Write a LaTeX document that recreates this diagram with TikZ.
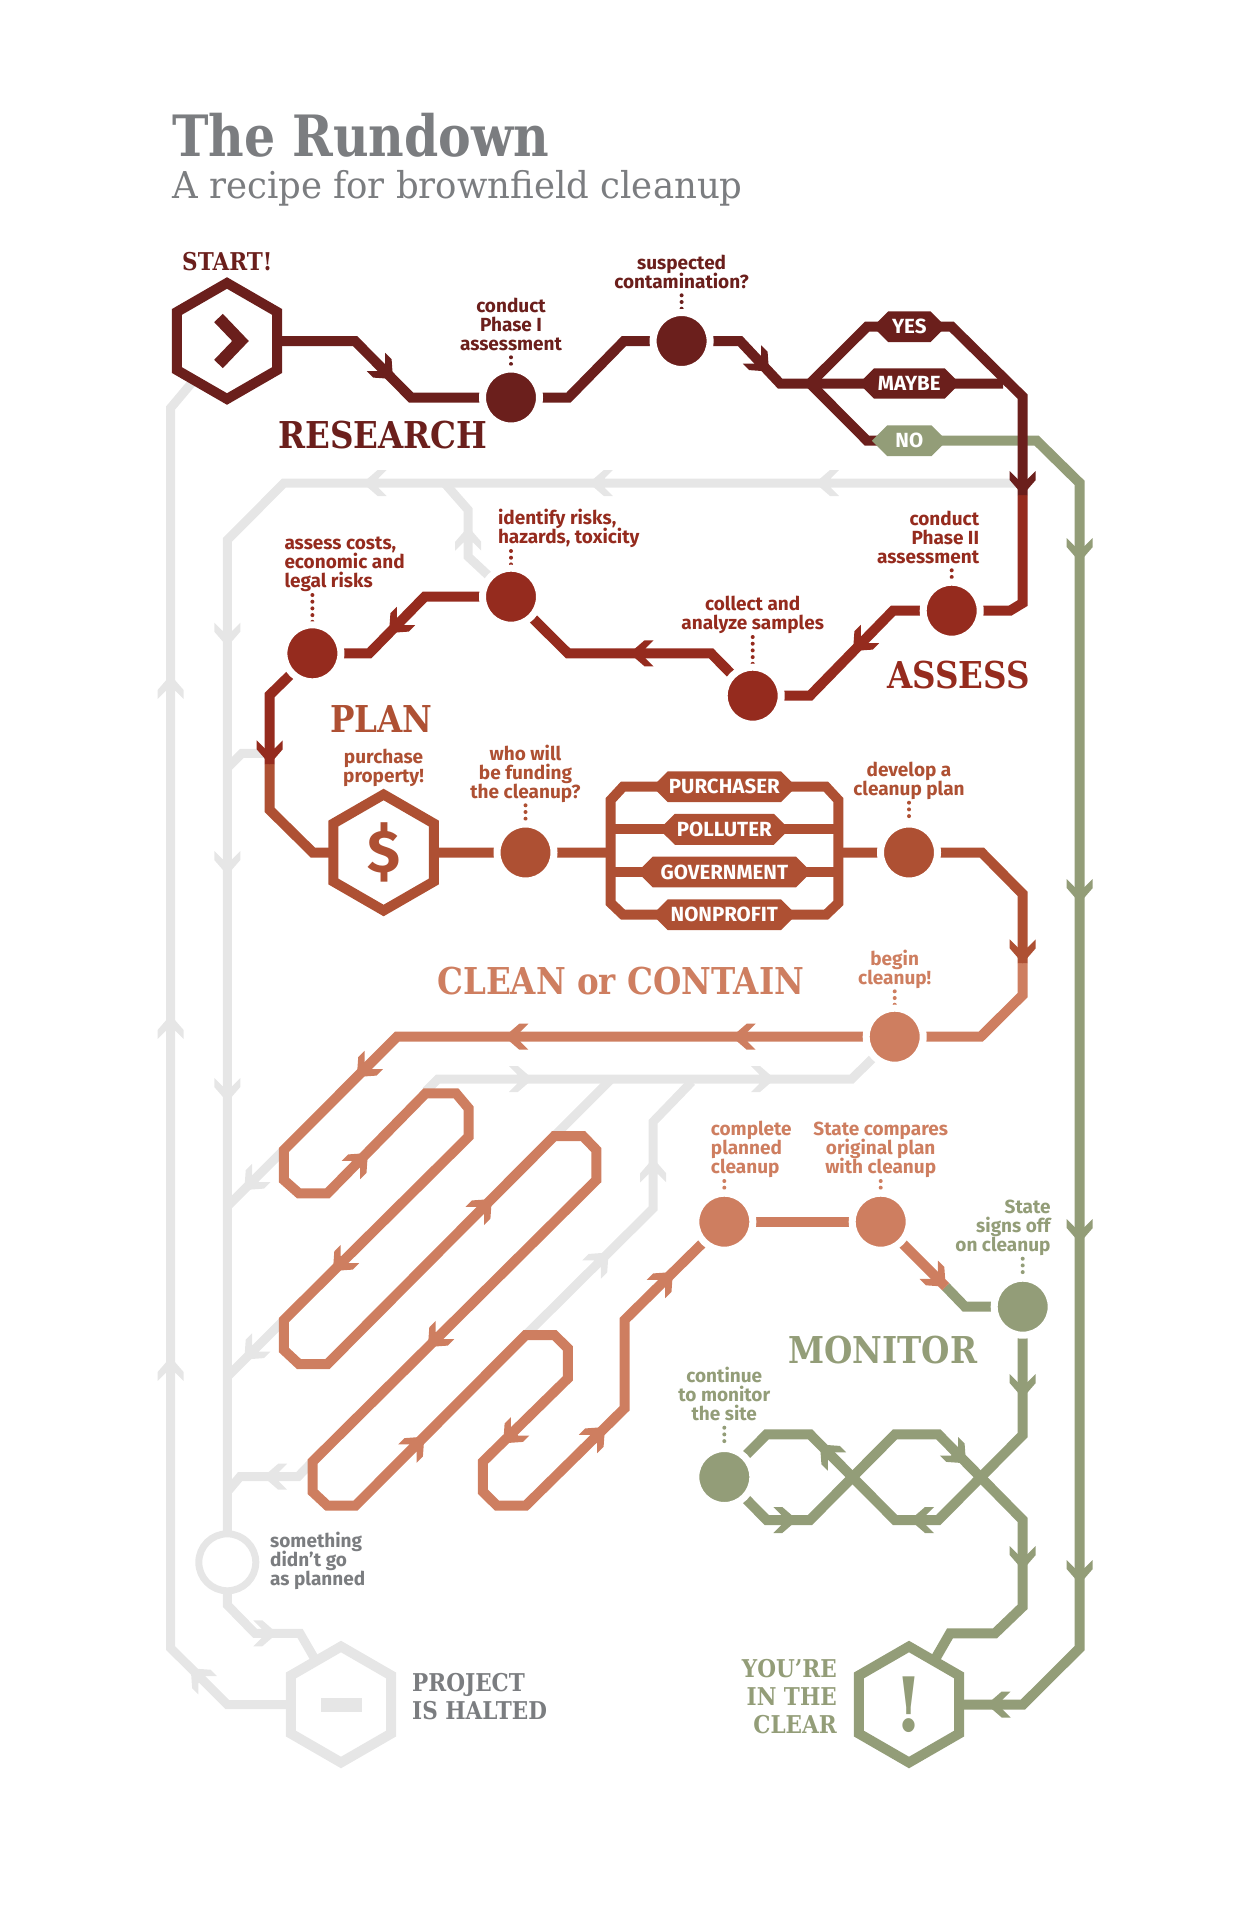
\documentclass[tikz,border=0pt]{standalone}
\usepackage{fontspec}
\setmainfont{Fira Sans}
\newfontfamily\slabfont[FakeStretch=0.88]{DejaVu Serif}
\newfontfamily\titlefont[FakeStretch=0.86]{DejaVu Serif}
\newfontfamily\subfont[FakeStretch=0.96]{DejaVu Serif}
\newcommand\lblfont{\fontsize{19}{19}\selectfont\bfseries\lineskiplimit=-5pt\relax}
\usetikzlibrary{backgrounds,shapes.geometric,shapes.misc}
\definecolor{research_red}{RGB}{107,31,28}
\definecolor{assess_red}{RGB}{149,43,30}
\definecolor{plan_rust}{RGB}{174,80,51}
\definecolor{clean_salmon}{RGB}{206,126,96}
\definecolor{monitor_green}{RGB}{147,157,120}
\definecolor{halt_gray}{RGB}{230,230,230}
\definecolor{text_gray}{RGB}{123,125,128}

\tikzset{tick/.pic={\fill[pic actions] (0,0) -- (-15,13) -- (-24,13) -- (-16,5) -- (-16,-5) -- (-24,-13) -- (-15,-13) -- cycle;}}

\begin{document}
\begin{tikzpicture}[x=1pt,y=-1pt]
    \tikzstyle{stop}=[circle, inner sep=0, outer sep=0, minimum size=57pt, draw=white, line width=7pt]
    \tikzstyle{hex}=[regular polygon, regular polygon sides=6, shape border rotate=30, inner sep=0, outer sep=0, minimum size=116pt, line width=10pt, fill=white]
    \tikzstyle{pill}=[chamfered rectangle, chamfered rectangle angle=45, chamfered rectangle xsep=8pt, chamfered rectangle ysep=8pt, inner sep=0, outer sep=0, minimum height=29pt, text=white, font=\fontsize{20.5}{20.5}\selectfont\bfseries]
    \tikzstyle{lbl}=[inner sep=0, text depth=0pt, anchor=south, align=center, font=\lblfont]
    \tikzstyle{lbl_l}=[style=lbl, anchor=south west, align=left]
    \tikzstyle{lbl_r}=[style=lbl, anchor=south east, align=right]
    \tikzstyle{phase}=[inner sep=0, text depth=0pt, anchor=south west, font=\slabfont\fontsize{37}{37}\selectfont\bfseries]
    \tikzstyle{sign}=[inner sep=0, text depth=0pt, font=\slabfont\fontsize{24.5}{28.3}\selectfont\bfseries]
    \tikzstyle{track}=[line width=10pt]
    \tikzstyle{spur}=[line width=9pt, draw=halt_gray]
    \tikzstyle{dots}=[line width=4pt, line cap=round, dash pattern=on 0pt off 6.7pt, shorten <=7pt]

    \useasboundingbox (0,0) rectangle (1250,1932);

    % titles
    \node[inner sep=0, anchor=south west, text depth=0pt, text=text_gray, font=\titlefont\fontsize{57}{57}\selectfont\bfseries] (title) at (172,157) {The Rundown};
    \node[inner sep=0, anchor=south west, text depth=0pt, text=text_gray, font=\subfont\fontsize{37}{37}\selectfont] (subtitle) at (172,199) {A recipe for brownfield cleanup};
    \node[phase, text=research_red] (t_research) at (278,449) {RESEARCH};
    \node[phase, text=assess_red] (t_assess) at (887,689) {ASSESS};
    \node[phase, text=plan_rust] (t_plan) at (330,733) {PLAN};
    \node[phase, text=clean_salmon] (t_clean) at (437,995) {CLEAN or CONTAIN};
    \node[phase, text=monitor_green] (t_monitor) at (788,1364) {MONITOR};
    \node[sign, anchor=south west, text=research_red] (t_start) at (182,271) {START!};
    \node[sign, anchor=south west, align=left, text=text_gray] (t_halted) at (412,1720) {PROJECT\\IS HALTED};
    \node[sign, anchor=south east, align=right, text=monitor_green] (t_clear) at (837,1734) {YOU’RE\\IN THE\\CLEAR};

    % stations
    \node[hex, draw=research_red] (start) at (227,341) {};
    \node[hex, draw=plan_rust, text=plan_rust, font=\fontsize{60}{60}\selectfont\bfseries] (buy) at (383.6,852.5) {\$};
    \node[hex, draw=halt_gray] (halted) at (341,1704.5) {};
    \node[hex, draw=monitor_green, text=monitor_green, font=\slabfont\fontsize{75}{75}\selectfont\bfseries] (clear) at (909,1704.5) {!};

    \node[stop, fill=research_red] (phase1) at (511,397.5) {};
    \node[stop, fill=research_red] (suspect) at (681.6,341) {};
    \node[stop, fill=assess_red] (phase2) at (951.7,610.7) {};
    \node[stop, fill=assess_red] (sample) at (752.7,695.7) {};
    \node[stop, fill=assess_red] (identify) at (511,596.7) {};
    \node[stop, fill=assess_red] (costs) at (312.4,653.3) {};
    \node[stop, fill=plan_rust] (fund) at (525.5,852.5) {};
    \node[stop, fill=plan_rust] (develop) at (909,852.5) {};
    \node[stop, fill=clean_salmon] (begin) at (894.7,1036.7) {};
    \node[stop, fill=clean_salmon] (complete) at (724.3,1221.7) {};
    \node[stop, fill=clean_salmon] (compare) at (880.7,1221.7) {};
    \node[stop, fill=monitor_green] (signoff) at (1022.7,1306.7) {};
    \node[stop, fill=monitor_green] (watch) at (724.3,1477) {};
    \node[stop, draw=halt_gray, fill=white] (wrong) at (227.3,1562.3) {};

    % choices
    \node[pill, fill=research_red, minimum width=73pt] (yes) at (909.3,326.7) {YES};
    \node[pill, fill=research_red, minimum width=101pt] (maybe) at (909.3,383.5) {MAYBE};
    \node[pill, fill=monitor_green, minimum width=75pt] (no) at (909.3,440.7) {NO};
    \node[pill, fill=plan_rust, minimum width=144pt] (purchaser) at (724.3,786.7) {PURCHASER};
    \node[pill, fill=plan_rust, minimum width=130pt] (polluter) at (724.3,829.3) {POLLUTER};
    \node[pill, fill=plan_rust, minimum width=174pt] (government) at (724.3,872) {GOVERNMENT};
    \node[pill, fill=plan_rust, minimum width=144pt] (nonprofit) at (724.3,914.7) {NONPROFIT};

    % labels
    \node[lbl, text=research_red] (l_phase1) at (511,350.3) {conduct\\Phase I\\assessment};
    \node[lbl, text=research_red] (l_suspect) at (681.6,288.3) {suspected\\contamination?};
    \node[lbl_r, text=assess_red] (l_phase2) at (979.3,563.3) {conduct\\Phase II\\assessment};
    \node[lbl, text=assess_red] (l_sample) at (752.7,630) {collect and\\analyze samples};
    \node[lbl_l, text=assess_red] (l_identify) at (497.8,544) {identify risks,\\hazards, toxicity};
    \node[lbl_l, text=assess_red] (l_costs) at (284.3,588) {assess costs,\\economic and\\legal risks};
    \node[lbl, text=plan_rust] (l_buy) at (383.6,782.3) {purchase\\property!};
    \node[lbl, text=plan_rust] (l_fund) at (525.5,798.3) {who will\\be funding\\the cleanup?};
    \node[lbl, text=plan_rust] (l_develop) at (909,795.7) {develop a\\cleanup plan};
    \node[lbl, text=clean_salmon] (l_begin) at (894.7,984.3) {begin\\cleanup!};
    \node[lbl_l, text=clean_salmon] (l_complete) at (710.7,1174) {complete\\planned\\cleanup};
    \node[lbl, text=clean_salmon] (l_compare) at (880.7,1174) {State compares\\original plan\\with cleanup};
    \node[lbl_r, text=monitor_green] (l_signoff) at (1050.7,1251.7) {State\\signs off\\on cleanup};
    \node[lbl, text=monitor_green] (l_watch) at (724.3,1420.7) {continue\\to monitor\\the site};
    \node[lbl_l, text=text_gray] (l_wrong) at (270,1585.7) {something\\didn’t go\\as planned};

    \begin{scope}[on background layer]
    % everything that goes wrong
    \draw[spur] (start) -- (170.6,408) -- (170.6,1648) -- (227.3,1704.5) -- (halted);
    \draw[spur] (1022.7,483) -- (284,483) -- (227.3,540) -- (wrong);
    \draw[spur] (identify) -- (468.2,556.7) -- (468.2,510) -- (444.5,483);
    \draw[spur] (227.3,768) -- (242,753.3) -- (269.7,753.3);
    \draw[spur] (begin) -- (851.7,1079) -- (438,1079) -- (425.7,1091.3);
    \draw[spur] (397,1036.7) -- (227.4,1206.3);
    \draw[spur] (283.9,1320) -- (227.4,1376.5);
    \draw[spur] (312.5,1461.7) -- (298,1476.7) -- (240,1476.7) -- (227.4,1491.7);
    \draw[spur] (554.3,1136) -- (611,1079.3);
    \draw[spur] (691.8,1081.7) -- (653.2,1121.7) -- (653.2,1208.3) -- (525.7,1335);
    \draw[spur] (wrong) -- (227.3,1605) -- (255,1633.3) -- (300,1633.3) -- (halted);
    \foreach \y in {675,1015,1357}
        \pic[fill=halt_gray,rotate=90] at (170.6,\y) {tick};
    \foreach \y in {646.7,875,1102}
        \pic[fill=halt_gray,rotate=-90] at (227.3,\y) {tick};
    \foreach \x in {362.6,588.8,815}
        \pic[fill=halt_gray,rotate=180] at (\x,483) {tick};
    \pic[fill=halt_gray,rotate=135] at (190.7,1668.3) {tick};
    \pic[fill=halt_gray,rotate=90] at (468.2,526.7) {tick};
    \pic[fill=halt_gray] at (532.9,1079) {tick};
    \pic[fill=halt_gray] at (775,1079) {tick};
    \pic[fill=halt_gray,rotate=-135] at (244.3,1190) {tick};
    \pic[fill=halt_gray,rotate=-135] at (244.3,1359.5) {tick};
    \pic[fill=halt_gray,rotate=180] at (263.2,1476.7) {tick};
    \pic[fill=halt_gray,rotate=90] at (653.2,1158.3) {tick};
    \pic[fill=halt_gray,rotate=45] at (608.6,1252.5) {tick};
    \pic[fill=halt_gray] at (277.3,1633.3) {tick};

    % monitor
    \draw[track, draw=monitor_green] (no.center) -- (1036.7,440.7) -- (1079.7,483) -- (1079.7,1648) -- (1023,1704.5) -- (clear);
    \draw[track, draw=monitor_green] (945.7,1286.7) -- (965,1306.7) -- (signoff) -- (1022.7,1435) -- (938.3,1520) -- (895,1520) -- (810,1434.3) -- (766.7,1434.3) -- (watch);
    \draw[track, draw=monitor_green] (watch) -- (766.7,1520) -- (810,1520) -- (895,1434.3) -- (938.3,1434.3) -- (1022.7,1520) -- (1022.7,1606.7) -- (995,1633.3) -- (950,1633.3) -- (clear);
    \foreach \y in {562,903,1243,1584}
        \pic[fill=monitor_green,rotate=-90] at (1079.7,\y) {tick};
    \pic[fill=monitor_green,rotate=180] at (986.7,1704.5) {tick};
    \pic[fill=monitor_green,rotate=-90] at (1022.7,1398) {tick};
    \pic[fill=monitor_green,rotate=-90] at (1022.7,1570) {tick};
    \pic[fill=monitor_green,rotate=135] at (820,1444.5) {tick};
    \pic[fill=monitor_green,rotate=-45] at (966,1463.3) {tick};
    \pic[fill=monitor_green] at (797.3,1520) {tick};
    \pic[fill=monitor_green,rotate=180] at (910,1520) {tick};

    % clean or contain
    \draw[track, draw=clean_salmon] (1022.7,963) -- (1022.7,995) -- (980.7,1036.7) -- (begin);
    \draw[track, draw=clean_salmon] (begin) -- (397,1036.7) -- (283.9,1150) -- (283.9,1180) -- (298.9,1193.3) -- (327.5,1193.3) -- (425.7,1093.3) -- (456,1093.3) -- (468.6,1108.3) -- (468.6,1136.7) -- (283.9,1320) -- (283.9,1350) -- (298.9,1364) -- (327.5,1364) -- (554.3,1136) -- (582.9,1136) -- (596.4,1150) -- (596.4,1180) -- (312.5,1461.7) -- (312.5,1491.7) -- (327.5,1505.7) -- (355.4,1505.7) -- (525.7,1335) -- (554.3,1335) -- (567.9,1348.3) -- (567.9,1378.3) -- (482.9,1461.7) -- (482.9,1491.7) -- (497.1,1505.7) -- (525.7,1505.7) -- (624.6,1408.3) -- (624.6,1320) -- (complete);
    \draw[track, draw=clean_salmon] (complete) -- (compare);
    \draw[track, draw=clean_salmon] (compare) -- (945.7,1286.7);
    \pic[fill=clean_salmon,rotate=180] at (731.7,1036.7) {tick};
    \pic[fill=clean_salmon,rotate=180] at (504.3,1036.7) {tick};
    \pic[fill=clean_salmon,rotate=-135] at (356.8,1077) {tick};
    \pic[fill=clean_salmon,rotate=45] at (367.9,1153) {tick};
    \pic[fill=clean_salmon,rotate=-135] at (332.9,1271) {tick};
    \pic[fill=clean_salmon,rotate=45] at (491.8,1199) {tick};
    \pic[fill=clean_salmon,rotate=-135] at (427.9,1347) {tick};
    \pic[fill=clean_salmon,rotate=45] at (424.3,1436.7) {tick};
    \pic[fill=clean_salmon,rotate=-135] at (503.2,1443.3) {tick};
    \pic[fill=clean_salmon,rotate=45] at (605,1427) {tick};
    \pic[fill=clean_salmon,rotate=45] at (672.9,1272) {tick};
    \pic[fill=clean_salmon,rotate=-45] at (945.7,1286.7) {tick};

    % plan
    \draw[track, draw=plan_rust] (269.7,764) -- (269.7,810) -- (312.8,852.5) -- (buy);
    \draw[track, draw=plan_rust] (buy) -- (fund) -- (610.7,852.5);
    \draw[track, draw=plan_rust] (838.3,852.5) -- (develop) -- (981.7,852.5) -- (1022.7,894) -- (1022.7,963);
    \draw[track, draw=plan_rust] (purchaser.center) -- (623,786.7) -- (610.7,800) -- (610.7,903) -- (623,914.7) -- (nonprofit.center) -- (826,914.7) -- (838.3,903) -- (838.3,800) -- (826,786.7) -- cycle;
    \draw[track, draw=plan_rust] (610.7,829.3) -- (polluter.center) -- (838.3,829.3);
    \draw[track, draw=plan_rust] (610.7,872) -- (government.center) -- (838.3,872);
    \pic[fill=plan_rust,rotate=-90] at (1022.7,963.3) {tick};

    % assess
    \draw[track, draw=assess_red] (1022.7,495) -- (1022.7,603) -- (1010,610.7) -- (phase2) -- (893,610.7) -- (810,695.7) -- (sample) -- (711,653.3) -- (568,653.3) -- (identify) -- (424.7,596.7) -- (369.3,653.3) -- (costs) -- (269.7,695) -- (269.7,764);
    \pic[fill=assess_red,rotate=-135] at (853,651) {tick};
    \pic[fill=assess_red,rotate=180] at (629.5,653.3) {tick};
    \pic[fill=assess_red,rotate=-135] at (389,633) {tick};
    \pic[fill=assess_red,rotate=-90] at (269.7,764.3) {tick};

    % research
    \draw[track, draw=research_red] (start) -- (355,341) -- (411,397.5) -- (phase1) -- (568.6,397.5) -- (624,341) -- (suspect) -- (740,341) -- (780,383.5) -- (810,383.5) -- (maybe.center) -- (1003,383.5);
    \draw[track, draw=research_red] (no.center) -- (867,440.7) -- (810,383.5) -- (867,326.7) -- (yes.center) -- (951.7,326.7) -- (1022.7,396.7) -- (1022.7,495);
    \pic[fill=research_red,rotate=-45] at (393,379) {tick};
    \pic[fill=research_red,rotate=-45] at (769,371.5) {tick};
    \pic[fill=research_red,rotate=-90] at (1022.7,495) {tick};

    % dots up to the stations
    \draw[dots, draw=research_red] (l_phase1.south -| phase1) -- (phase1);
    \draw[dots, draw=research_red] (l_suspect.south -| suspect) -- (suspect);
    \draw[dots, draw=assess_red] (l_phase2.south -| phase2) -- (phase2);
    \draw[dots, draw=assess_red] (l_sample.south -| sample) -- (sample);
    \draw[dots, draw=assess_red] (l_identify.south -| identify) -- (identify);
    \draw[dots, draw=assess_red] (l_costs.south -| costs) -- (costs);
    \draw[dots, draw=plan_rust] (l_fund.south -| fund) -- (fund);
    \draw[dots, draw=plan_rust] (l_develop.south -| develop) -- (develop);
    \draw[dots, draw=clean_salmon] (l_begin.south -| begin) -- (begin);
    \draw[dots, draw=clean_salmon] (l_complete.south -| complete) -- (complete);
    \draw[dots, draw=clean_salmon] (l_compare.south -| compare) -- (compare);
    \draw[dots, draw=monitor_green] (l_signoff.south -| signoff) -- (signoff);
    \draw[dots, draw=monitor_green] (l_watch.south -| watch) -- (watch);
    \end{scope}

    % marks inside the hexagons
    \draw[line width=12pt, draw=research_red] (218.5,318) -- (240.5,341) -- (218.5,364);
    \fill[halt_gray] (320.5,1698) rectangle (361.5,1712);
\end{tikzpicture}
\end{document}
